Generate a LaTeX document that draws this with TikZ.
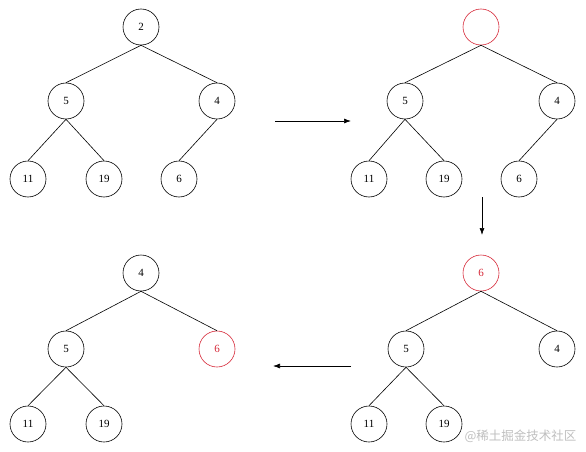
\documentclass[tikz,border=0pt]{standalone}
\usepackage{fontspec}
\setmainfont{Liberation Serif}
\newfontfamily\cjkfont{Noto Sans CJK SC}
\usepackage{tikz}
\usepackage{xcolor}
\definecolor{heapred}{RGB}{214,40,56}
\tikzset{
	knoten/.style={circle, draw, line width=0.6pt, minimum size=36pt, inner sep=0pt, font=\fontsize{11}{13}\selectfont},
	rot/.style={draw=heapred, text=heapred},
	kante/.style={line width=0.6pt},
	pfeil/.style={line width=0.7pt, -{Latex[length=7pt, width=5pt]}}
}
\usetikzlibrary{arrows.meta}
\begin{document}
\begin{tikzpicture}[x=1pt, y=-1pt]
	\useasboundingbox (0,0) rectangle (586,452);
	% erster baum
	\node[knoten] (a1) at (141,27) {2};
	\node[knoten] (a2) at (66,101) {5};
	\node[knoten] (a3) at (217,101) {4};
	\node[knoten] (a4) at (28,179) {11};
	\node[knoten] (a5) at (104,179) {19};
	\node[knoten] (a6) at (179,179) {6};
	\draw[kante] (a1.south) -- (a2.north);
	\draw[kante] (a1.south) -- (a3.north);
	\draw[kante] (a2.south) -- (a4.north);
	\draw[kante] (a2.south) -- (a5.north);
	\draw[kante] (a3.south) -- (a6.north);
	% zweiter baum, wurzel leer
	\node[knoten, rot] (b1) at (481,27) {};
	\node[knoten] (b2) at (405,101) {5};
	\node[knoten] (b3) at (557,101) {4};
	\node[knoten] (b4) at (369,179) {11};
	\node[knoten] (b5) at (444,179) {19};
	\node[knoten] (b6) at (519,179) {6};
	\draw[kante] (b1.south) -- (b2.north);
	\draw[kante] (b1.south) -- (b3.north);
	\draw[kante] (b2.south) -- (b4.north);
	\draw[kante] (b2.south) -- (b5.north);
	\draw[kante] (b3.south) -- (b6.north);
	% dritter baum, 6 oben
	\node[knoten, rot] (c1) at (481,273) {6};
	\node[knoten] (c2) at (406,349) {5};
	\node[knoten] (c3) at (557,349) {4};
	\node[knoten] (c4) at (369,424) {11};
	\node[knoten] (c5) at (444,424) {19};
	\draw[kante] (c1.south) -- (c2.north);
	\draw[kante] (c1.south) -- (c3.north);
	\draw[kante] (c2.south) -- (c4.north);
	\draw[kante] (c2.south) -- (c5.north);
	% vierter baum, getauscht
	\node[knoten] (d1) at (141,273) {4};
	\node[knoten] (d2) at (66,349) {5};
	\node[knoten, rot] (d3) at (217,349) {6};
	\node[knoten] (d4) at (28,424) {11};
	\node[knoten] (d5) at (104,424) {19};
	\draw[kante] (d1.south) -- (d2.north);
	\draw[kante] (d1.south) -- (d3.north);
	\draw[kante] (d2.south) -- (d4.north);
	\draw[kante] (d2.south) -- (d5.north);
	% pfeile zwischen den schritten
	\coordinate (p1) at (275,121);
	\coordinate (p2) at (351,121);
	\coordinate (p3) at (482,197);
	\coordinate (p4) at (482,235);
	\coordinate (p5) at (351,366);
	\coordinate (p6) at (273,366);
	\draw[pfeil] (p1) -- (p2);
	\draw[pfeil] (p3) -- (p4);
	\draw[pfeil] (p5) -- (p6);
	% wasserzeichen
	\node[text=black!25, font=\cjkfont\fontsize{12.5}{14}\selectfont, anchor=east] (wz) at (580,436) {@稀土掘金技术社区};
\end{tikzpicture}
\end{document}
